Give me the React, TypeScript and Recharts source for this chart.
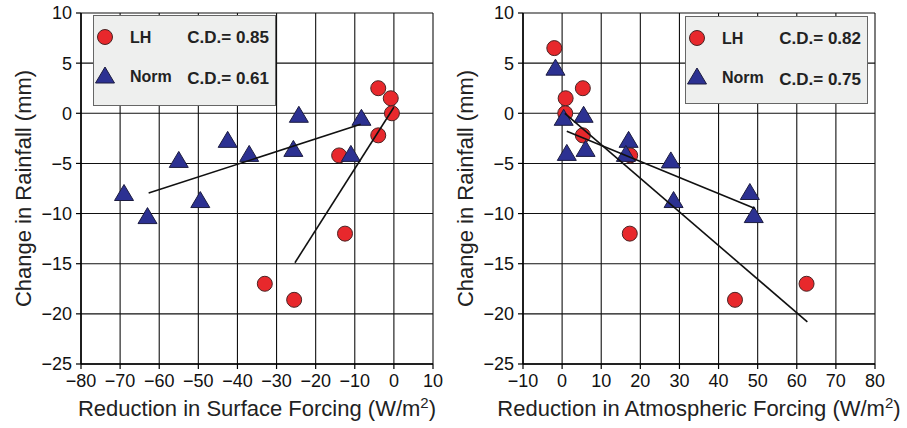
import {
  CartesianGrid,
  Scatter,
  ScatterChart,
  XAxis,
  YAxis,
} from "recharts";

type Pt = { x: number; y: number };

// left panel: surface forcing
const surfaceLH: Pt[] = [
  { x: -4, y: 2.5 },
  { x: -0.8, y: 1.5 },
  { x: -0.5, y: 0 },
  { x: -4, y: -2.2 },
  { x: -14, y: -4.2 },
  { x: -12.5, y: -12 },
  { x: -33, y: -17 },
  { x: -25.5, y: -18.6 },
];
const surfaceNorm: Pt[] = [
  { x: -69, y: -8 },
  { x: -63, y: -10.3 },
  { x: -55, y: -4.7 },
  { x: -49.5, y: -8.7 },
  { x: -42.5, y: -2.7 },
  { x: -37, y: -4.1 },
  { x: -25.7, y: -3.6 },
  { x: -24.3, y: -0.2 },
  { x: -11, y: -4.1 },
  { x: -8.3, y: -0.5 },
];
const surfaceLHFit: Pt[] = [
  { x: -25.3, y: -14.9 },
  { x: 0, y: 0.6 },
];
const surfaceNormFit: Pt[] = [
  { x: -62.7, y: -7.95 },
  { x: -8.5, y: -1.1 },
];

// right panel: atmospheric forcing
const atmosLH: Pt[] = [
  { x: -2, y: 6.5 },
  { x: 0.9, y: 1.5 },
  { x: 0.8, y: 0 },
  { x: 5.3, y: 2.5 },
  { x: 5.3, y: -2.2 },
  { x: 17.4, y: -4.2 },
  { x: 17.3, y: -12 },
  { x: 44.2, y: -18.6 },
  { x: 62.5, y: -17 },
];
const atmosNorm: Pt[] = [
  { x: -1.7, y: 4.5 },
  { x: 0.4, y: -0.5 },
  { x: 1.2, y: -4.0 },
  { x: 5.5, y: -0.2 },
  { x: 6.0, y: -3.6 },
  { x: 17, y: -2.7 },
  { x: 16.3, y: -4.1 },
  { x: 27.8, y: -4.75 },
  { x: 28.5, y: -8.7 },
  { x: 48, y: -7.9 },
  { x: 49, y: -10.2 },
];
const atmosLHFit: Pt[] = [
  { x: 0.7, y: 0 },
  { x: 62.7, y: -20.8 },
];
const atmosNormFit: Pt[] = [
  { x: 1.2, y: -1.8 },
  { x: 49.3, y: -9.5 },
];

const surfaceTicks = [-80, -70, -60, -50, -40, -30, -20, -10, 0, 10];
const atmosTicks = [-10, 0, 10, 20, 30, 40, 50, 60, 70, 80];
const rainTicks = [-25, -20, -15, -10, -5, 0, 5, 10];

const surfaceCD = ["0.85", "0.61"];
const atmosCD = ["0.82", "0.75"];

const FONT = "'Liberation Sans', Arial, Helvetica, sans-serif";
const RED = "#e8282c";
const BLUE = "#2c3192";

const fmt = (v: number) => (v < 0 ? `\u2212${-v}` : `${v}`);

const Dot = (props: any) => (
  <circle cx={props.cx} cy={props.cy} r={7.5} fill={RED} stroke="#4a2424" strokeWidth={1} />
);

const Tri = (props: any) => {
  const { cx, cy } = props;
  return (
    <polygon
      points={`${cx},${cy - 9} ${cx + 9.5},${cy + 7} ${cx - 9.5},${cy + 7}`}
      fill={BLUE}
      stroke="#1c1c40"
      strokeWidth={1}
    />
  );
};

const NoDot = () => <g />;

type PanelProps = {
  left: number;
  xTicks: number[];
  lh: Pt[];
  norm: Pt[];
  lhFit: Pt[];
  normFit: Pt[];
  xLabel: string;
  cd: string[];
  legendX: number;
  legendY: number;
  legendH: number;
};

function Legend({ x, y, h, cd }: { x: number; y: number; h: number; cd: string[] }) {
  const w = 183;
  return (
    <svg
      width={w}
      height={h}
      style={{ position: "absolute", left: x, top: y, fontFamily: FONT }}
    >
      <rect x={0.5} y={0.5} width={w - 1} height={h - 1} fill="#eeefee" stroke="#666" />
      <circle cx={12} cy={22} r={7.5} fill={RED} stroke="#4a2424" />
      <polygon points="12,52 21.5,68 2.5,68" fill={BLUE} stroke="#1c1c40" />
      <text x={37} y={28} fontSize={16} fontWeight="bold" fill="#222">
        LH
      </text>
      <text x={w - 7} y={28} fontSize={17} fontWeight="bold" fill="#222" textAnchor="end">
        C.D.= {cd[0]}
      </text>
      <text x={37} y={67} fontSize={16} fontWeight="bold" fill="#222">
        Norm
      </text>
      <text x={w - 7} y={69} fontSize={17} fontWeight="bold" fill="#222" textAnchor="end">
        C.D.= {cd[1]}
      </text>
    </svg>
  );
}

function Panel(p: PanelProps) {
  const tickStyle = { fill: "#111", fontSize: 18, fontFamily: FONT };
  return (
    <div style={{ position: "absolute", left: p.left, top: 0, width: 465, height: 428 }}>
      <ScatterChart
        width={465}
        height={428}
        margin={{ top: 13, right: 32, left: 0, bottom: 0 }}
      >
        <CartesianGrid stroke="#111" strokeWidth={1.1} />
        <XAxis
          type="number"
          dataKey="x"
          domain={[p.xTicks[0], p.xTicks[p.xTicks.length - 1]]}
          ticks={p.xTicks}
          tickFormatter={fmt}
          allowDataOverflow
          height={64}
          tickSize={5}
          tickMargin={5}
          axisLine={{ stroke: "#000", strokeWidth: 1.5 }}
          tickLine={{ stroke: "#000", strokeWidth: 1.2 }}
          tick={tickStyle}
          label={{
            content: (lp: any) => {
              const vb = lp.viewBox;
              return (
                <text
                  x={vb.x + vb.width / 2}
                  y={vb.y + 52}
                  textAnchor="middle"
                  fontSize={22}
                  fontFamily={FONT}
                  fill="#222"
                >
                  <tspan>{p.xLabel} (W/m</tspan>
                  <tspan dy={-8} fontSize={15}>
                    2
                  </tspan>
                  <tspan dy={8}>)</tspan>
                </text>
              );
            },
          }}
        />
        <YAxis
          type="number"
          dataKey="y"
          domain={[-25, 10]}
          ticks={rainTicks}
          tickFormatter={fmt}
          allowDataOverflow
          width={81}
          tickSize={5}
          tickMargin={4}
          axisLine={{ stroke: "#000", strokeWidth: 1.5 }}
          tickLine={{ stroke: "#000", strokeWidth: 1.2 }}
          tick={tickStyle}
          label={{
            content: (lp: any) => {
              const vb = lp.viewBox;
              const cy = vb.y + vb.height / 2;
              return (
                <text
                  x={31}
                  y={cy}
                  transform={`rotate(-90, 31, ${cy})`}
                  textAnchor="middle"
                  fontSize={22}
                  fontFamily={FONT}
                  fill="#222"
                >
                  Change in Rainfall (mm)
                </text>
              );
            },
          }}
        />
        <Scatter name="LH" data={p.lh} shape={Dot} isAnimationActive={false} />
        <Scatter name="Norm" data={p.norm} shape={Tri} isAnimationActive={false} />
        <Scatter
          name="LH fit"
          data={p.lhFit}
          shape={NoDot}
          line={{ stroke: "#111", strokeWidth: 1.6 }}
          isAnimationActive={false}
        />
        <Scatter
          name="Norm fit"
          data={p.normFit}
          shape={NoDot}
          line={{ stroke: "#111", strokeWidth: 1.6 }}
          isAnimationActive={false}
        />
      </ScatterChart>
      <Legend x={p.legendX} y={p.legendY} h={p.legendH} cd={p.cd} />
    </div>
  );
}

export default function App() {
  return (
    <div
      style={{
        position: "absolute",
        left: 0,
        top: 0,
        width: 907,
        height: 428,
        overflow: "hidden",
        background: "#fff",
        fontFamily: FONT,
      }}
    >
      <Panel
        left={0}
        xTicks={surfaceTicks}
        lh={surfaceLH}
        norm={surfaceNorm}
        lhFit={surfaceLHFit}
        normFit={surfaceNormFit}
        xLabel="Reduction in Surface Forcing"
        cd={surfaceCD}
        legendX={93}
        legendY={15}
        legendH={91}
      />
      <Panel
        left={442}
        xTicks={atmosTicks}
        lh={atmosLH}
        norm={atmosNorm}
        lhFit={atmosLHFit}
        normFit={atmosNormFit}
        xLabel="Reduction in Atmospheric Forcing"
        cd={atmosCD}
        legendX={243}
        legendY={16}
        legendH={88}
      />
    </div>
  );
}
